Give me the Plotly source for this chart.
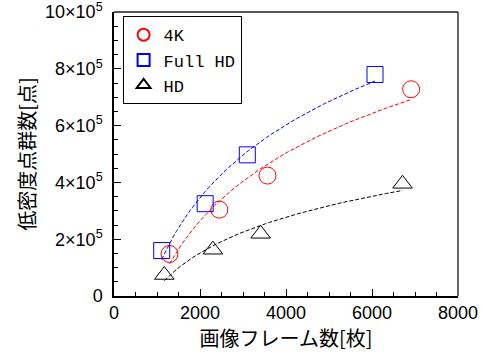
import numpy as np
import plotly.graph_objects as go

# Data
x_4k = [1290, 2450, 3570, 6910]
y_4k = [1.48e5, 3.04e5, 4.24e5, 7.28e5]
x_fhd = [1110, 2120, 3100, 6070]
y_fhd = [1.60e5, 3.25e5, 4.97e5, 7.80e5]
x_hd = [1170, 2300, 3410, 6710]
y_hd = [0.74e5, 1.63e5, 2.19e5, 3.95e5]

series = [
    ("4K", x_4k, y_4k, "red", "circle-open", 17),
    ("Full HD", x_fhd, y_fhd, "blue", "square-open", 16),
    ("HD", x_hd, y_hd, "black", "triangle-up-open", 17),
]

ytick_vals = [0, 2e5, 4e5, 6e5, 8e5, 10e5]
ytick_text = ["0", "2×10<sup>5</sup>", "4×10<sup>5</sup>", "6×10<sup>5</sup>",
              "8×10<sup>5</sup>", "10×10<sup>5</sup>"]
xtick_vals = [0, 2000, 4000, 6000, 8000]

fig = go.Figure()
for name, xs, ys, col, sym, sz in series:
    xs = np.array(xs, float)
    ys = np.array(ys, float)
    b, a = np.polyfit(np.log(xs), ys, 1)
    xf = np.linspace(xs.min(), xs.max(), 60)
    fig.add_trace(go.Scatter(x=xf, y=a + b * np.log(xf), mode="lines",
                             line=dict(color=col, width=1, dash="4px,2px"),
                             showlegend=False, hoverinfo="skip"))
for name, xs, ys, col, sym, sz in series:
    fig.add_trace(go.Scatter(x=xs, y=ys, mode="markers", name=name,
                             marker=dict(symbol=sym, size=sz, color=col,
                                         line=dict(width=1, color=col))))

# top and right frame lines (greyish in the reference)
fig.add_shape(type="line", xref="paper", yref="paper", x0=0, x1=1, y0=1, y1=1,
              line=dict(color="#555555", width=2))
fig.add_shape(type="line", xref="paper", yref="paper", x0=1, x1=1, y0=0, y1=1,
              line=dict(color="#333333", width=1.5))

tickfont = dict(family="Liberation Sans, Arial, sans-serif", size=18, color="black")
fig.update_layout(
    width=481, height=360,
    margin=dict(l=114, r=23, t=12, b=64),
    paper_bgcolor="white", plot_bgcolor="white",
    showlegend=True,
    legend=dict(x=0.025, y=0.985, xanchor="left", yanchor="top",
                bordercolor="black", borderwidth=1, bgcolor="white",
                font=dict(family="Liberation Mono, DejaVu Sans Mono, monospace", size=17, color="black"),
                itemsizing="constant", tracegroupgap=1),
    xaxis=dict(range=[0, 8000], tickvals=xtick_vals, ticks="inside", ticklen=7,
               tickwidth=1, tickcolor="black", automargin=False,
               ticklabeloverflow="allow",
               minor=dict(dtick=500, ticks="inside", ticklen=4, tickcolor="black"),
               showline=True, linecolor="black", linewidth=1.5, mirror=False,
               showgrid=False, zeroline=False, tickfont=tickfont,
               ticklabelstandoff=0,
               title=dict(text="画像フレーム数[枚]", standoff=0,
                          font=dict(family="Noto Sans CJK JP", size=20, color="black"))),
    yaxis=dict(range=[0, 10e5], tickvals=ytick_vals, ticktext=ytick_text,
               ticks="inside", ticklen=7, tickwidth=1, tickcolor="black", automargin=False,
               ticklabeloverflow="allow",
               minor=dict(dtick=5e4, ticks="inside", ticklen=4, tickcolor="black"),
               showline=True, linecolor="black", linewidth=1.5, mirror=False,
               showgrid=False, zeroline=False, tickfont=tickfont,
               ticklabelstandoff=6,
               title=dict(text="低密度点群数[点]", standoff=4,
                          font=dict(family="Noto Sans CJK JP", size=20, color="black"))),
)
# remove the default 8px page margin so the figure fills the 481x360 window
fig.write_html("out.html", config={"displayModeBar": False},
               post_script="document.body.style.margin='0';")
